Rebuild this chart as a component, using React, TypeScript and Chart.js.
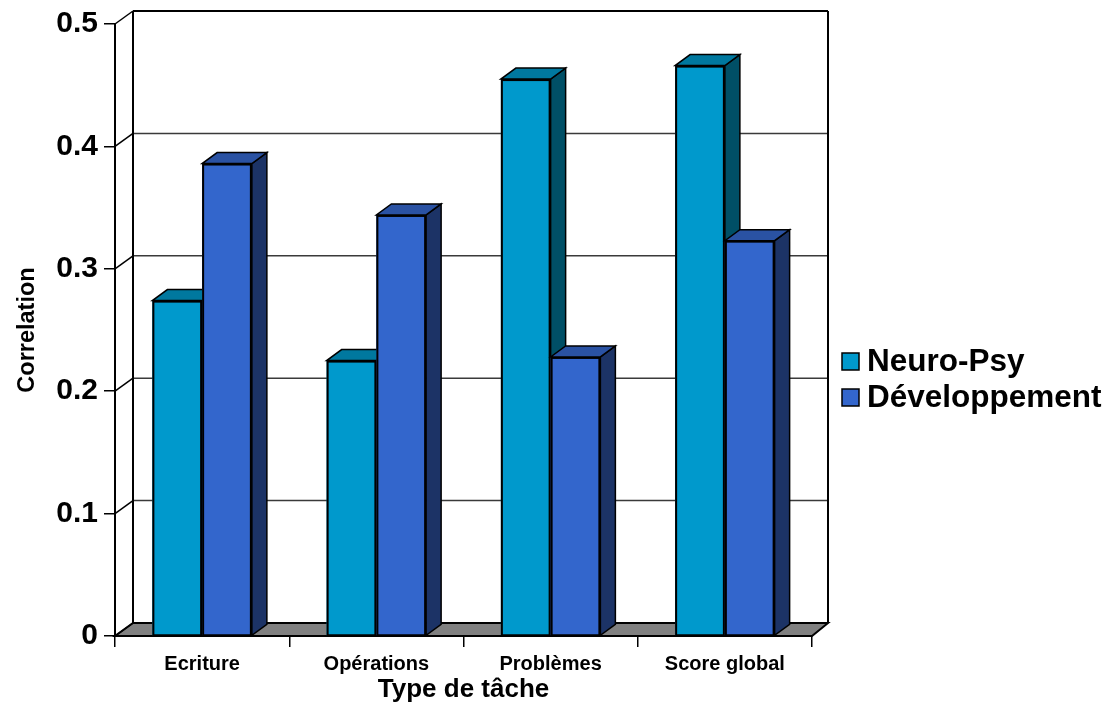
import React, { useEffect, useRef } from "react";
import { Chart, registerables } from "chart.js";

Chart.register(...registerables);

const categories = ["Ecriture", "Opérations", "Problèmes", "Score global"];
const neuroPsy = [0.274, 0.225, 0.455, 0.466];
const developpement = [0.386, 0.344, 0.228, 0.323];
const seriesNames = ["Neuro-Psy", "Développement"];
const yTicks = [0, 0.1, 0.2, 0.3, 0.4, 0.5];

const FONT = "'Liberation Sans', Arial, sans-serif";
const frontColors = ["#0099CC", "#3366CC"];
const topColors = ["#00789F", "#2A52A3"];
const sideColors = ["#004F66", "#1C3366"];

const WALL_DXL = 18;
const WALL_DXR = 16;
const WALL_DY = -13;
const BAR_DX = 15;
const BAR_DY = -11;

const threeD = {
  id: "threeD",
  beforeDatasetsDraw(chart: any) {
    const { ctx, chartArea } = chart;
    const y = chart.scales.y;
    const { left, right, bottom } = chartArea;
    ctx.save();
    // floor
    ctx.beginPath();
    ctx.moveTo(left, bottom);
    ctx.lineTo(right, bottom);
    ctx.lineTo(right + WALL_DXR, bottom + WALL_DY);
    ctx.lineTo(left + WALL_DXL, bottom + WALL_DY);
    ctx.closePath();
    ctx.fillStyle = "#808080";
    ctx.fill();
    ctx.lineWidth = 2;
    ctx.strokeStyle = "#000";
    ctx.stroke();
    // back wall gridlines + side wall connectors
    yTicks.forEach((v) => {
      const py = y.getPixelForValue(v);
      const by = py + WALL_DY;
      ctx.beginPath();
      ctx.moveTo(left + WALL_DXL, by);
      ctx.lineTo(right + WALL_DXR, by);
      ctx.lineWidth = v === 0.5 ? 2 : 1.5;
      ctx.strokeStyle = v === 0.5 ? "#000" : "#3a3a3a";
      if (v !== 0) ctx.stroke();
      ctx.beginPath();
      ctx.moveTo(left, py);
      ctx.lineTo(left + WALL_DXL, by);
      ctx.lineWidth = 1.5;
      ctx.strokeStyle = "#000";
      ctx.stroke();
    });
    const topB = y.getPixelForValue(0.5) + WALL_DY;
    const botB = bottom + WALL_DY;
    ctx.beginPath();
    ctx.moveTo(left + WALL_DXL, topB);
    ctx.lineTo(left + WALL_DXL, botB);
    ctx.moveTo(right + WALL_DXR, topB);
    ctx.lineTo(right + WALL_DXR, botB);
    ctx.lineWidth = 2;
    ctx.strokeStyle = "#000";
    ctx.stroke();
    ctx.restore();
  },
  afterDatasetsDraw(chart: any) {
    const { ctx } = chart;
    const metas = chart.data.datasets.map((_: any, i: number) => chart.getDatasetMeta(i));
    ctx.save();
    ctx.strokeStyle = "#000";
    ctx.lineJoin = "miter";
    categories.forEach((_c, ci) => {
      metas.forEach((meta: any, di: number) => {
        const bar = meta.data[ci];
        if (!bar) return;
        const p = bar.getProps(["x", "y", "base", "width"], true);
        const l = p.x - p.width / 2;
        const r = p.x + p.width / 2;
        const t = p.y;
        const b = p.base;
        // front face
        ctx.fillStyle = frontColors[di];
        ctx.fillRect(l, t, r - l, b - t);
        ctx.lineWidth = 2;
        ctx.strokeRect(l + 1, t + 1, r - l - 2, b - t - 1);
        ctx.lineWidth = 1.5;
        // side
        ctx.beginPath();
        ctx.moveTo(r, t);
        ctx.lineTo(r + BAR_DX, t + BAR_DY);
        ctx.lineTo(r + BAR_DX, b + BAR_DY);
        ctx.lineTo(r, b);
        ctx.closePath();
        ctx.fillStyle = sideColors[di];
        ctx.fill();
        ctx.stroke();
        // top
        ctx.beginPath();
        ctx.moveTo(l, t);
        ctx.lineTo(r, t);
        ctx.lineTo(r + BAR_DX, t + BAR_DY);
        ctx.lineTo(l + BAR_DX, t + BAR_DY);
        ctx.closePath();
        ctx.fillStyle = topColors[di];
        ctx.fill();
        ctx.stroke();
      });
    });
    ctx.restore();
  },
  afterDraw(chart: any) {
    const { ctx } = chart;
    ctx.save();
    ctx.font = `bold 31.5px ${FONT}`;
    ctx.textBaseline = "middle";
    ctx.textAlign = "left";
    chart.data.datasets.forEach((ds: any, i: number) => {
      const cy = 361 + i * 36;
      ctx.fillStyle = frontColors[i];
      ctx.fillRect(842, cy - 8, 17, 17);
      ctx.lineWidth = 1.5;
      ctx.strokeStyle = "#000";
      ctx.strokeRect(842, cy - 8, 17, 17);
      ctx.fillStyle = "#000";
      ctx.fillText(ds.label, 867, cy + 1);
    });
    ctx.restore();
  },
};

export default function App() {
  const ref = useRef<HTMLCanvasElement>(null);
  useEffect(() => {
    if (!ref.current) return;
    const chart = new Chart(ref.current, {
      type: "bar",
      data: {
        labels: categories,
        datasets: [
          {
            label: seriesNames[0],
            data: neuroPsy,
            backgroundColor: frontColors[0],
            borderColor: "#000",
            borderWidth: 2,
          },
          {
            label: seriesNames[1],
            data: developpement,
            backgroundColor: frontColors[1],
            borderColor: "#000",
            borderWidth: 2,
          },
        ],
      },
      options: {
        responsive: false,
        animation: false,
        devicePixelRatio: 1,
        layout: { padding: { top: 24, right: 307, left: 0, bottom: 0 } },
        plugins: { legend: { display: false }, tooltip: { enabled: false } },
        datasets: { bar: { categoryPercentage: 0.571, barPercentage: 1 } },
        scales: {
          x: {
            grid: {
              offset: true,
              drawOnChartArea: false,
              tickLength: 11,
              color: "#000",
              lineWidth: 1.5,
            },
            border: { display: true, color: "#000", width: 2 },
            ticks: {
              color: "#000",
              padding: 5,
              font: { family: FONT, weight: "bold", size: 20 },
            },
            title: {
              display: true,
              text: "Type de tâche",
              color: "#000",
              font: { family: FONT, weight: "bold", size: 26 },
              padding: { top: 0, bottom: 0 },
            },
            afterFit: (s: any) => {
              s.height = 69;
            },
          },
          y: {
            min: 0,
            max: 0.5,
            ticks: {
              stepSize: 0.1,
              color: "#000",
              padding: 6,
              font: { family: FONT, weight: "bold", size: 30 },
              callback: (v: any) => (Number(v) === 0 ? "0" : Number(v).toFixed(1)),
            },
            grid: {
              drawOnChartArea: false,
              tickLength: 11,
              color: "#000",
              lineWidth: 1.5,
            },
            border: { display: true, color: "#000", width: 2 },
            title: {
              display: true,
              text: "Correlation",
              color: "#000",
              font: { family: FONT, weight: "bold", size: 23.5 },
              padding: { top: 13, bottom: 0 },
            },
            afterFit: (s: any) => {
              s.width = 115;
            },
          },
        },
      },
      plugins: [threeD],
    });
    return () => chart.destroy();
  }, []);
  return (
    <div style={{ position: "fixed", left: 0, top: 0, width: 1119, height: 705, background: "#fff" }}>
      <canvas ref={ref} width={1119} height={705} style={{ display: "block" }} />
    </div>
  );
}
